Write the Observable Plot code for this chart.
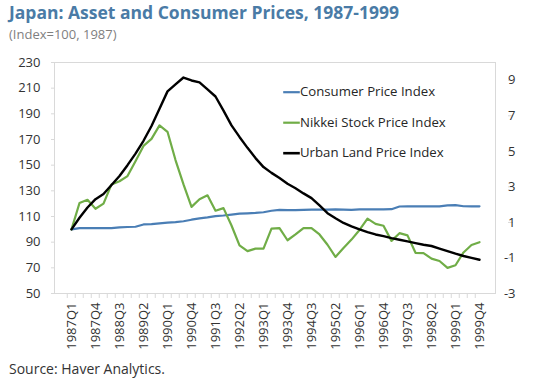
<!DOCTYPE html>
<html><head><meta charset="utf-8">
<script src="https://cdn.jsdelivr.net/npm/d3@7"></script>
<script src="https://cdn.jsdelivr.net/npm/@observablehq/plot@0.6"></script>
<style>
body{margin:0;background:#fff;font-family:"Open Sans",Lato,sans-serif;}
#wrap{position:relative;width:540px;height:392px;overflow:hidden;background:#fff;}
#title{position:absolute;left:9px;top:-0.5px;font-size:17.5px;font-weight:bold;color:#4a7ba6;white-space:nowrap;line-height:normal;}
#sub{position:absolute;left:9px;top:25px;font-size:13px;color:#7f7f7f;white-space:nowrap;line-height:normal;}
#chart{position:absolute;left:0;top:46px;}
#src{position:absolute;left:9px;top:358.5px;font-size:14px;color:#333;white-space:nowrap;line-height:normal;}
</style></head>
<body>
<div id="wrap">
  <div id="title">Japan: Asset and Consumer Prices, 1987-1999</div>
  <div id="sub">(Index=100, 1987)</div>
  <div id="chart"></div>
  <div id="src">Source: Haver Analytics.</div>
</div>
<script>
const quarters = [
  "1987Q1","1987Q2","1987Q3","1987Q4","1988Q1","1988Q2","1988Q3","1988Q4",
  "1989Q1","1989Q2","1989Q3","1989Q4","1990Q1","1990Q2","1990Q3","1990Q4",
  "1991Q1","1991Q2","1991Q3","1991Q4","1992Q1","1992Q2","1992Q3","1992Q4",
  "1993Q1","1993Q2","1993Q3","1993Q4","1994Q1","1994Q2","1994Q3","1994Q4",
  "1995Q1","1995Q2","1995Q3","1995Q4","1996Q1","1996Q2","1996Q3","1996Q4",
  "1997Q1","1997Q2","1997Q3","1997Q4","1998Q1","1998Q2","1998Q3","1998Q4",
  "1999Q1","1999Q2","1999Q3","1999Q4"
];
const xTickLabels = ["1987Q1","1987Q4","1988Q3","1989Q2","1990Q1","1990Q4","1991Q3","1992Q2","1993Q1",
  "1993Q4","1994Q3","1995Q2","1996Q1","1996Q4","1997Q3","1998Q2","1999Q1","1999Q4"];
const leftTicks = [50,70,90,110,130,150,170,190,210,230];
const rightTicks = [-3,-1,1,3,5,7,9];
const rightDomain = [-3,10];

const cpi = [100,101,101,101,101,101,101.5,101.8,102,103.8,104,104.6,105.2,105.6,106.3,107.5,
  108.5,109.3,110.3,110.8,111.5,112.3,112.5,112.8,113.3,114.5,115.2,115,115,115.2,115.3,115.3,
  115.3,115.5,115.3,115.2,115.5,115.5,115.5,115.5,115.7,117.8,117.9,117.9,117.9,117.9,117.9,118.6,
  118.9,118,117.9,117.9];
const nikkei = [100,120.5,123,116,120,135,137.5,141.5,153,165,170.5,181,176,154,135,117.5,
  123.5,126.5,114.5,116.5,103,87.5,83,85,85,100.5,101,91.5,96,101,101,96,
  88,78.5,85.5,92,99.5,108.3,104.3,102.8,91,97,95.3,81.7,81.5,77.2,75.3,70,
  72,82,87.8,90];
const land = [100,109,117,123.5,127.5,134.5,141.5,150,159,169,180.5,194,207.5,213,218.3,216,
  214.5,209,203.5,192.5,181,172,163.5,155.5,148.5,144,140,135.5,132,128,124.3,118.6,
  112.6,108.7,105,102.3,100,97.9,96,94.7,93.2,91.9,90.6,89.3,88,87,85,83,
  81,79.2,77.7,76.3];

const seriesNames = ["Consumer Price Index","Nikkei Stock Price Index","Urban Land Price Index"];
const seriesColors = ["#4a7eb5","#70ad47","#000000"];

const toLeft = r => 50 + (r - rightDomain[0]) * 180 / (rightDomain[1] - rightDomain[0]);
const toRight = v => rightDomain[0] + (v - 50) * (rightDomain[1] - rightDomain[0]) / 180;

const rows = s => quarters.map((q, i) => ({q, v: s[i]}));

const dash = {draw(ctx){ ctx.moveTo(-8.3, 0); ctx.lineTo(8.3, 0); }};
const legendMarks = seriesNames.flatMap((name, i) => [
  Plot.dot([name], {frameAnchor: "top-left", dx: 237, dy: 29.7 + i * 30.5, symbol: dash, r: 8,
    stroke: seriesColors[i], strokeWidth: i === 2 ? 2.6 : 2.2, fill: "none"}),
  Plot.text([name], {frameAnchor: "top-left", dx: 245.5, dy: 29.7 + i * 30.5, text: d => d,
    textAnchor: "start", lineAnchor: "middle", fill: "#262626", fontSize: 13.2})
]);

const chart = Plot.plot({
  width: 540, height: 312,
  marginTop: 16, marginBottom: 65, marginLeft: 54, marginRight: 45,
  style: {fontFamily: "'Open Sans', Lato, sans-serif", fontSize: "13px", color: "#333", background: "white"},
  x: {type: "point", domain: quarters, padding: 0.5, label: null},
  y: {domain: [50, 230], label: null},
  marks: [
    Plot.frame({stroke: "#d9d9d9"}),
    Plot.axisY({ticks: leftTicks, tickSize: 3, tickPadding: 11, stroke: "#d9d9d9", fill: "#333", label: null}),
    Plot.axisY({anchor: "right", ticks: rightTicks.map(toLeft), tickFormat: v => String(Math.round(toRight(v))),
      tickSize: 5, tickPadding: 3, textAnchor: "end", dx: 12, stroke: "#d9d9d9", fill: "#333", label: null}),
    Plot.axisX({ticks: quarters, tickSize: 5, dx: -441 / 104, stroke: "#d9d9d9", fill: "none", label: null}),
    Plot.axisX({ticks: xTickLabels, tickSize: 0, tickPadding: 9, tickRotate: -90, fill: "#333", label: null}),
    Plot.line(rows(cpi), {x: "q", y: "v", stroke: seriesColors[0], strokeWidth: 2.2}),
    Plot.line(rows(nikkei), {x: "q", y: "v", stroke: seriesColors[1], strokeWidth: 2.2}),
    Plot.line(rows(land), {x: "q", y: "v", stroke: seriesColors[2], strokeWidth: 2.4}),
    ...legendMarks
  ]
});
document.getElementById("chart").appendChild(chart);
</script>
</body></html>
